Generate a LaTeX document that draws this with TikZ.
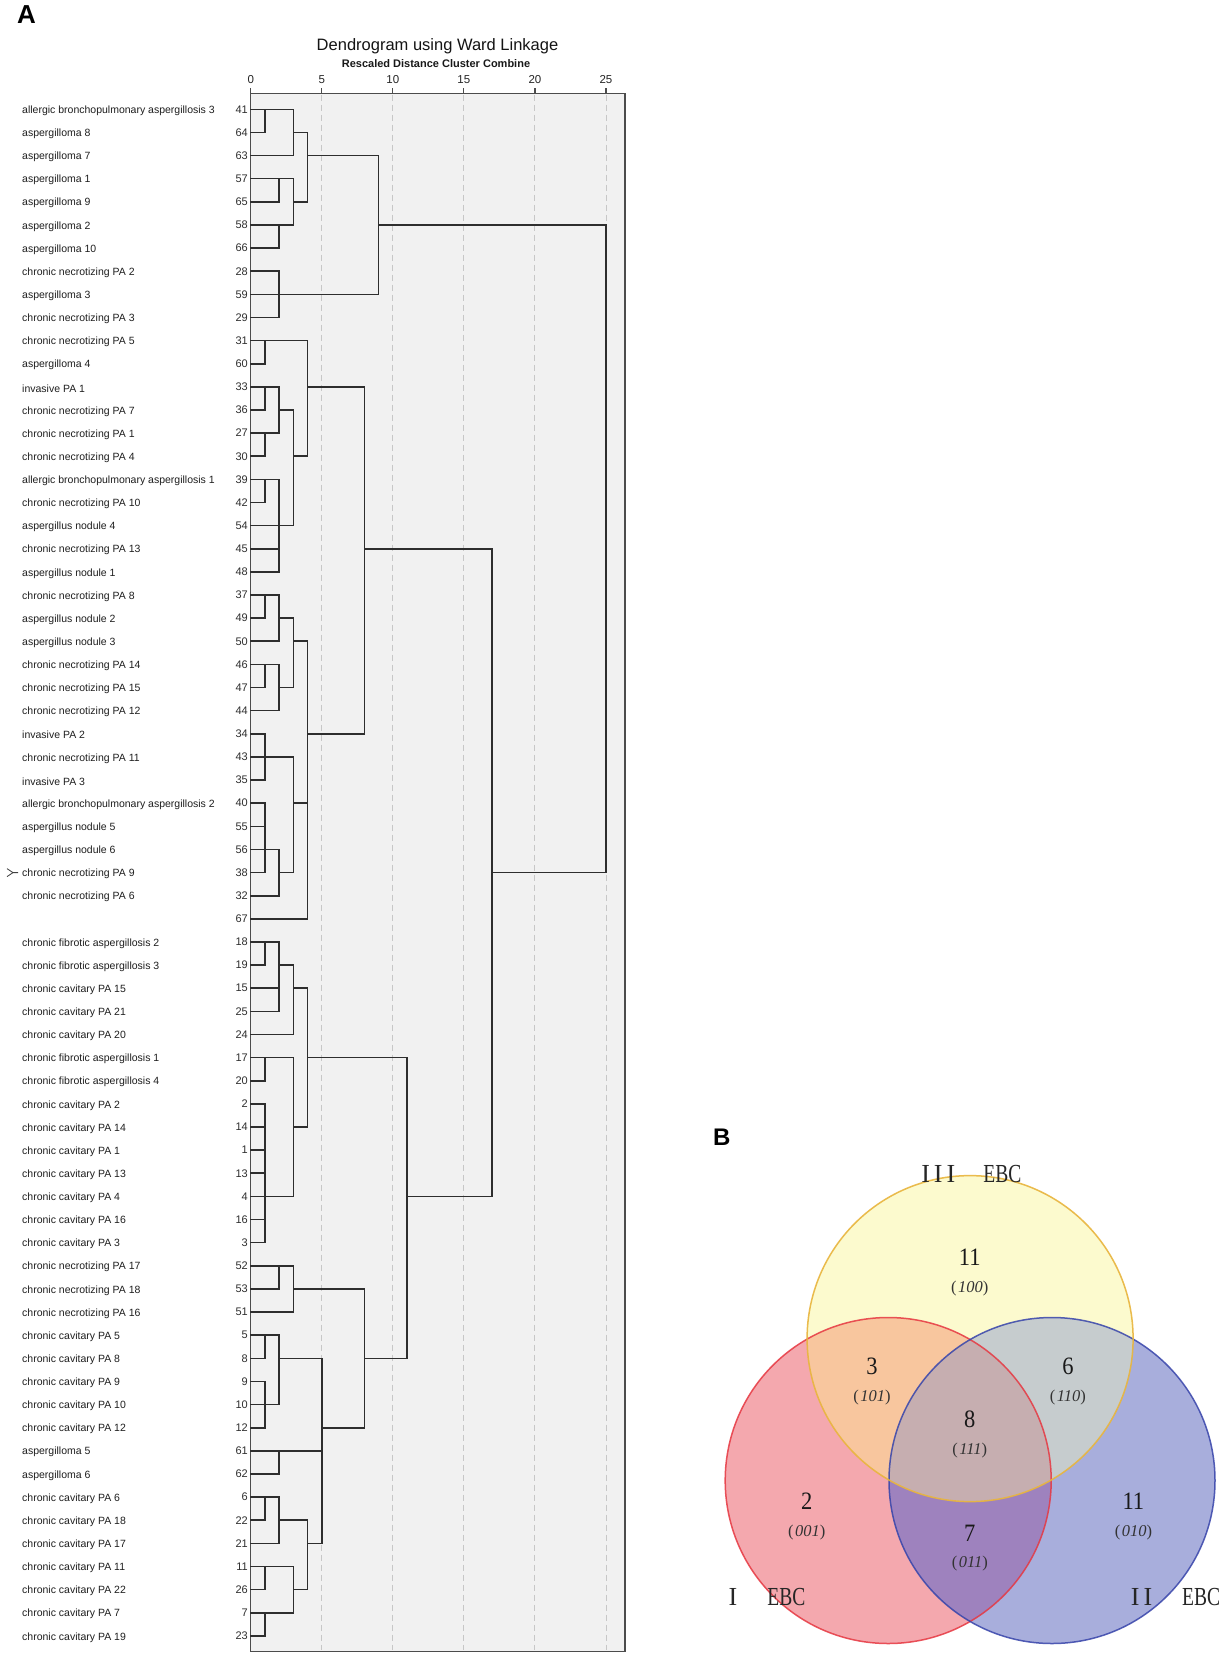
\documentclass[tikz,border=0pt]{standalone}
\usepackage{fontspec}
\setmainfont{Liberation Sans}
\newfontfamily\vennfont{Liberation Serif}
\usepackage{graphicx}
\definecolor{ronly}{RGB}{244,168,174}
\definecolor{yonly}{RGB}{252,250,206}
\definecolor{bonly}{RGB}{168,174,220}
\definecolor{ryc}{RGB}{248,198,158}
\definecolor{ybc}{RGB}{198,204,206}
\definecolor{rbc}{RGB}{158,130,190}
\definecolor{rybc}{RGB}{198,174,176}
\definecolor{redline}{RGB}{230,55,65}
\definecolor{yelline}{RGB}{232,180,60}
\definecolor{blueline}{RGB}{55,68,170}
\definecolor{framefill}{RGB}{241,241,241}
\newcommand\ebc{\scalebox{0.75}[1]{EBC}}
\newcommand\vn[1]{\scalebox{0.9}[1]{#1}}
\begin{document}
\begin{tikzpicture}[x=1pt,y=-1pt,
  dline/.style={line width=1.6pt, draw=black!82, line cap=rect},
  gridline/.style={dash pattern=on 6pt off 4pt, draw=black!22, line width=0.9pt},
  numlab/.style={anchor=east, font=\fontsize{11}{12}\selectfont, text=black!82, inner sep=0pt},
  namelab/.style={anchor=west, font=\fontsize{10.5}{12}\selectfont, text=black!88, inner sep=0pt},
  ticklab/.style={font=\fontsize{11.5}{12}\selectfont, text=black!85, inner sep=0pt},
  vennlab/.style={font=\vennfont\fontsize{26}{28}\selectfont, text=black!85, inner sep=0pt},
  vnum/.style={font=\vennfont\fontsize{25}{28}\selectfont, text=black!90, inner sep=0pt},
  vcode/.style={font=\vennfont\fontsize{16.5}{18}\selectfont, text=black!80, inner sep=0pt},
  panel/.style={font=\bfseries\fontsize{26}{28}\selectfont, inner sep=0pt}]
\useasboundingbox (0,0) rectangle (1229,1665);
\fill[white] (0,0) rectangle (1229,1665);

% ---------- Panel A ----------
\node[panel] (A) at (26.5,14.9) {A};
\node[font=\fontsize{16.5}{18}\selectfont, text=black!92, inner sep=0pt] (title) at (437.5,46.7) {Dendrogram using Ward Linkage};
\node[font=\bfseries\fontsize{11}{12}\selectfont, text=black!90, inner sep=0pt] (subtitle) at (436,63.7) {Rescaled Distance Cluster Combine};

\draw[draw=black!70, line width=1.4pt, fill=framefill] (250.7,93.3) rectangle (625,1651.3);
\foreach \d in {5,10,15,20,25} {
  \draw[gridline] ({250.7+14.21*\d},94.5) -- ({250.7+14.21*\d},1650);
}
\foreach \d in {0,5,10,15,20,25} {
  \draw[draw=black!70, line width=1.2pt] ({250.7+14.21*\d},93.3) -- ({250.7+14.21*\d},87.5);
  \node[ticklab] (tick\d) at ({250.7+14.21*\d},79.6) {\d};
}

% dendrogram lines: rows r at y=r, distances at x=d
\begin{scope}[shift={(250.7pt,-86.17pt)}, x=14.21pt, y=-23.13pt]
\foreach \r/\a/\b in {1/0/3, 2/0/1, 3/0/3, 2/3/4, 4/0/3, 5/0/2, 6/0/3, 7/0/2, 5/3/4, 3/4/9, 8/0/2, 9/0/9, 10/0/2, 6/9/25, 34/17/25,
  11/0/4, 12/0/1, 13/0/2, 14/0/1, 15/0/2, 16/0/1, 14/2/3, 17/0/2, 18/0/1, 19/0/3, 20/0/2, 21/0/2, 16/3/4, 13/4/8,
  22/0/2, 23/0/1, 24/0/2, 23/2/3, 25/0/2, 26/0/1, 27/0/2, 26/2/3, 24/3/4,
  28/0/1, 29/0/3, 30/0/1, 31/0/1, 32/0/1, 33/0/2, 34/0/1, 35/0/2, 34/2/3, 31/3/4, 36/0/4, 28/4/8, 20/8/17,
  37/0/2, 38/0/1, 39/0/2, 40/0/2, 38/2/3, 41/0/3, 39/3/4, 42/0/3, 43/0/1, 44/0/1, 45/0/1, 46/0/1, 47/0/1, 48/0/3, 49/0/1, 50/0/1, 45/3/4, 42/4/11,
  51/0/3, 52/0/2, 53/0/3, 52/3/8, 54/0/2, 55/0/1, 56/0/1, 57/0/2, 58/0/1, 55/2/5, 59/0/5, 60/0/2, 61/0/2, 62/0/1, 63/0/2, 62/2/4,
  64/0/3, 65/0/1, 66/0/3, 67/0/1, 65/3/4, 63/4/5, 58/5/8, 55/8/11, 48/11/17}
  {\draw[dline] (\a,\r) -- (\b,\r);}
\foreach \xx/\a/\b in {1/1/2, 3/1/3, 2/4/5, 2/6/7, 3/4/6, 4/2/5, 2/8/10, 9/3/9, 25/6/34,
  1/11/12, 1/13/14, 1/15/16, 2/13/15, 1/17/18, 2/17/21, 3/14/19, 4/11/16,
  1/22/23, 2/22/24, 1/25/26, 2/25/27, 3/23/26, 1/28/30, 1/31/34, 2/33/35, 3/29/34, 4/24/36, 8/13/28, 17/20/48,
  1/37/38, 2/37/40, 3/38/41, 1/42/43, 1/44/50, 3/42/48, 4/39/45,
  2/51/52, 3/51/53, 1/54/55, 1/56/58, 2/54/57, 2/59/60, 1/61/62, 2/61/63, 1/64/65, 1/66/67, 3/64/66, 4/62/65, 5/55/63, 8/52/58, 11/42/55}
  {\draw[dline] (\xx,\a) -- (\xx,\b);}
\end{scope}

% row labels
\begin{scope}[shift={(0pt,-86.17pt)}, y=-23.13pt]
\foreach \r/\n/\t in {1/41/allergic bronchopulmonary aspergillosis 3, 2/64/aspergilloma 8, 3/63/aspergilloma 7, 4/57/aspergilloma 1,
  5/65/aspergilloma 9, 6/58/aspergilloma 2, 7/66/aspergilloma 10, 8/28/chronic necrotizing PA 2, 9/59/aspergilloma 3,
  10/29/chronic necrotizing PA 3, 11/31/chronic necrotizing PA 5, 12/60/aspergilloma 4, 13/33/invasive PA 1,
  14/36/chronic necrotizing PA 7, 15/27/chronic necrotizing PA 1, 16/30/chronic necrotizing PA 4,
  17/39/allergic bronchopulmonary aspergillosis 1, 18/42/chronic necrotizing PA 10, 19/54/aspergillus nodule 4,
  20/45/chronic necrotizing PA 13, 21/48/aspergillus nodule 1, 22/37/chronic necrotizing PA 8, 23/49/aspergillus nodule 2,
  24/50/aspergillus nodule 3, 25/46/chronic necrotizing PA 14, 26/47/chronic necrotizing PA 15, 27/44/chronic necrotizing PA 12,
  28/34/invasive PA 2, 29/43/chronic necrotizing PA 11, 30/35/invasive PA 3, 31/40/allergic bronchopulmonary aspergillosis 2,
  32/55/aspergillus nodule 5, 33/56/aspergillus nodule 6, 34/38/chronic necrotizing PA 9, 35/32/chronic necrotizing PA 6,
  36/67/{}, 37/18/chronic fibrotic aspergillosis 2, 38/19/chronic fibrotic aspergillosis 3, 39/15/chronic cavitary PA 15,
  40/25/chronic cavitary PA 21, 41/24/chronic cavitary PA 20, 42/17/chronic fibrotic aspergillosis 1,
  43/20/chronic fibrotic aspergillosis 4, 44/2/chronic cavitary PA 2, 45/14/chronic cavitary PA 14, 46/1/chronic cavitary PA 1,
  47/13/chronic cavitary PA 13, 48/4/chronic cavitary PA 4, 49/16/chronic cavitary PA 16, 50/3/chronic cavitary PA 3,
  51/52/chronic necrotizing PA 17, 52/53/chronic necrotizing PA 18, 53/51/chronic necrotizing PA 16, 54/5/chronic cavitary PA 5,
  55/8/chronic cavitary PA 8, 56/9/chronic cavitary PA 9, 57/10/chronic cavitary PA 10, 58/12/chronic cavitary PA 12,
  59/61/aspergilloma 5, 60/62/aspergilloma 6, 61/6/chronic cavitary PA 6, 62/22/chronic cavitary PA 18,
  63/21/chronic cavitary PA 17, 64/11/chronic cavitary PA 11, 65/26/chronic cavitary PA 22, 66/7/chronic cavitary PA 7,
  67/23/chronic cavitary PA 19}
{
  \node[numlab] (n\r) at (248,\r) {\n};
  \node[namelab] (t\r) at (22,\r+0.06) {\t};
}
\end{scope}
% small marker at row 34
\draw[draw=black!75, line width=0.8pt] (7,868.6) -- (13,872.6) -- (7,876.6) (13,872.6) -- (18,872.6);

% ---------- Panel B ----------
\node[panel, font=\bfseries\fontsize{24}{26}\selectfont] (B) at (721.8,1137.3) {B};
\def\Rc{(888.2,1480.5) circle[radius=163pt]}
\def\Bc{(1052,1480.5) circle[radius=163pt]}
\def\Yc{(970.1,1338.6) circle[radius=163pt]}
\fill[ronly] \Rc;
\fill[bonly] \Bc;
\fill[yonly] \Yc;
\begin{scope}\clip \Rc; \fill[rbc] \Bc; \end{scope}
\begin{scope}\clip \Rc; \fill[ryc] \Yc; \end{scope}
\begin{scope}\clip \Bc; \fill[ybc] \Yc; \end{scope}
\begin{scope}\clip \Rc; \clip \Bc; \fill[rybc] \Yc; \end{scope}
\draw[redline, line width=1.5pt, opacity=0.85] \Rc;
\draw[blueline, line width=1.5pt, opacity=0.85] \Bc;
\draw[yelline, line width=1.5pt, opacity=0.9] \Yc;

\node[vennlab] (lab3) at (971.3,1173.6) {I\hspace{4pt}I\hspace{4pt}I\hspace{28pt}\ebc};
\node[vennlab] (lab1) at (767,1596.8) {I\hspace{30pt}\ebc};
\node[vennlab] (lab2) at (1175.5,1596.8) {I\hspace{4pt}I\hspace{30pt}\ebc};

\node[vnum] (v100) at (969.8,1257.4) {\vn{11}};
\node[vcode] (c100) at (969.8,1288.5) {(\kern1.5pt\textit{100})};
\node[vnum] (v101) at (872,1366.7) {\vn{3}};
\node[vcode] (c101) at (872,1397.8) {(\kern1.5pt\textit{101})};
\node[vnum] (v110) at (1067.9,1366.7) {\vn{6}};
\node[vcode] (c110) at (1067.9,1397.8) {(\kern1.5pt\textit{110})};
\node[vnum] (v111) at (969.8,1419.6) {\vn{8}};
\node[vcode] (c111) at (969.8,1450.8) {(\kern1.5pt\textit{111})};
\node[vnum] (v001) at (806.8,1501.6) {\vn{2}};
\node[vcode] (c001) at (806.8,1532.4) {(\kern1.5pt\textit{001})};
\node[vnum] (v011) at (969.8,1533.5) {\vn{7}};
\node[vcode] (c011) at (969.8,1563.9) {(\kern1.5pt\textit{011})};
\node[vnum] (v010) at (1133.4,1501.6) {\vn{11}};
\node[vcode] (c010) at (1133.4,1532.4) {(\kern1.5pt\textit{010})};
\end{tikzpicture}
\end{document}
